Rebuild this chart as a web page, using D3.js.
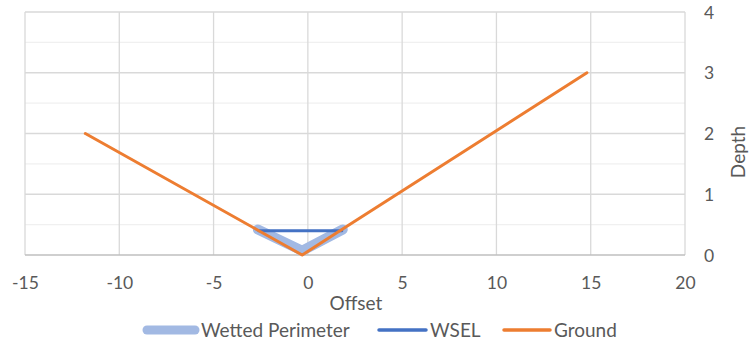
<!DOCTYPE html>
<html><head><meta charset="utf-8">
<script src="https://cdn.jsdelivr.net/npm/d3@7"></script>
<style>
html,body{margin:0;padding:0;background:#fff;}
svg text{font-family:Lato,"Open Sans",sans-serif;fill:#595959;}
</style></head>
<body><svg id="c" width="752" height="343"></svg>
<script>
const xTicks = [-15,-10,-5,0,5,10,15,20];
const yTicks = [0,1,2,3,4];
const yMinorTicks = [0.5,1.5,2.5,3.5];
const groundX = [-11.8,-2.6,-0.3,1.7,14.8];
const groundY = [2,0.4,0,0.4,3];
const wettedX = [-2.65,-0.3,1.85];
const wettedY = [0.42,0.07,0.42];
const wselX = [-2.6,1.8];
const wselY = [0.4,0.4];
const seriesNames = ["Wetted Perimeter","WSEL","Ground"];
const seriesColors = ["#a2b9e3","#4472c4","#ed7d31"];
const seriesWidths = [10,3,3];

const svg = d3.select("#c");
const L=25,R=685,T=12,B=255;
const x = d3.scaleLinear().domain([-15,20]).range([L,R]);
const y = d3.scaleLinear().domain([0,4]).range([B,T]);
const fs = 17.5;

svg.append("g").selectAll("line").data(yMinorTicks).join("line")
  .attr("x1",L).attr("x2",R).attr("y1",d=>y(d)).attr("y2",d=>y(d))
  .attr("stroke","#f0f0f0").attr("stroke-width",1.3);
svg.append("g").selectAll("line").data(yTicks.filter(d=>d>0)).join("line")
  .attr("x1",L).attr("x2",R).attr("y1",d=>y(d)).attr("y2",d=>y(d))
  .attr("stroke","#d9d9d9").attr("stroke-width",1.3);
svg.append("g").selectAll("line").data(xTicks).join("line")
  .attr("x1",d=>x(d)).attr("x2",d=>x(d)).attr("y1",T).attr("y2",B)
  .attr("stroke","#d9d9d9").attr("stroke-width",1.3);
svg.append("line").attr("x1",L).attr("x2",R).attr("y1",y(0)).attr("y2",y(0))
  .attr("stroke","#bfbfbf").attr("stroke-width",1.5);

const fmt = d => String(d);
const xa = svg.append("g").attr("transform",`translate(0,${B})`)
  .call(d3.axisBottom(x).tickValues(xTicks).tickSize(0).tickPadding(28).tickFormat(fmt));
xa.select(".domain").remove();
xa.selectAll("text").attr("font-size",fs).style("font-family","Lato").attr("fill","#595959").attr("dy","0.35em");
const ya = svg.append("g").attr("transform",`translate(${R},0)`)
  .call(d3.axisRight(y).tickValues(yTicks).tickSize(0).tickPadding(19).tickFormat(fmt));
ya.select(".domain").remove();
ya.selectAll("text").attr("font-size",fs).style("font-family","Lato").attr("fill","#595959").attr("dy","0.35em");

svg.append("text").attr("x",356).attr("y",303).attr("dy","0.35em").attr("text-anchor","middle")
  .attr("font-size",19).text("Offset");
svg.append("text").attr("transform","translate(738,152) rotate(-90)").attr("dy","0.35em")
  .attr("text-anchor","middle").attr("font-size",19).text("Depth");

const line = d3.line().x(d=>x(d[0])).y(d=>y(d[1]));
const series = [
  d3.zip(wettedX,wettedY),
  d3.zip(wselX,wselY),
  d3.zip(groundX,groundY)
];
series.forEach((s,i)=>{
  svg.append("path").datum(s).attr("d",line).attr("fill","none")
    .attr("stroke",seriesColors[i]).attr("stroke-width",seriesWidths[i])
    .attr("stroke-linecap","round").attr("stroke-linejoin","round");
});

const legX = [147,379,504];
const legLen = [48,47,46];
const legG = svg.append("g");
seriesNames.forEach((n,i)=>{
  legG.append("line").attr("x1",legX[i]).attr("x2",legX[i]+legLen[i]).attr("y1",330).attr("y2",330)
    .attr("stroke",seriesColors[i]).attr("stroke-width",i==0?9:3.5).attr("stroke-linecap","round");
  legG.append("text").attr("x",legX[i]+legLen[i]+(i==0?6:4)).attr("y",330).attr("dy","0.35em")
    .attr("font-size",19).text(n);
});
</script></body></html>
